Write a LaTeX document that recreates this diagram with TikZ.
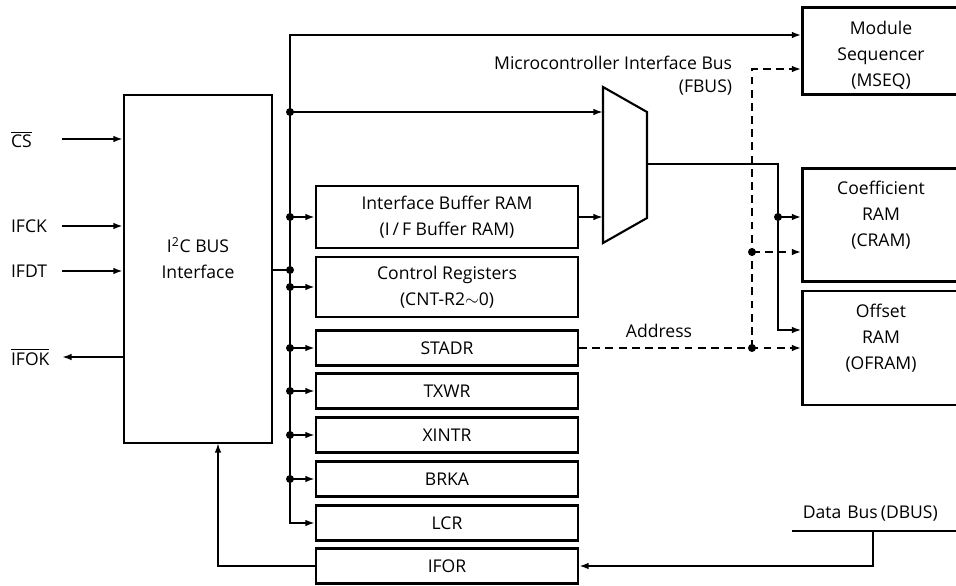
\documentclass[tikz,border=0pt]{standalone}
\usepackage{fontspec}
\setmainfont{Open Sans}
\usetikzlibrary{arrows.meta}

\tikzset{
  box/.style={draw, line width=1.25pt, inner sep=0pt, align=center},
  regbox/.style={box, minimum width=5.24cm, minimum height=0.70cm},
  rambox/.style={box, minimum width=3.14cm},
  arr/.style={-{Latex[length=5.5pt,width=3.8pt]}},
  dsh/.style={dash pattern=on 4.5pt off 3pt},
  lbl/.style={inner sep=0pt, anchor=west},
}

\begin{document}
\begin{tikzpicture}[x=0.02cm, y=-0.02cm, line width=1.2pt,
    font=\fontsize{10}{14.8}\selectfont]
            \path[fill=white] (0,0) rectangle (956,585);
            \useasboundingbox (0,0) rectangle (956,585);

            % I2C block and its pins
            \node[box, minimum width=2.96cm, minimum height=6.96cm] (i2c) at (198,269) {};
            \node[align=center] (i2ctxt) at (198,258) {I\textsuperscript{2}C BUS\\Interface};

            \node[lbl] (cs) at (10,139) {$\overline{\hbox{CS}}$};
            \node[lbl] (ifck) at (10,226) {IFCK};
            \node[lbl] (ifdt) at (10,271) {IFDT};
            \node[lbl] (ifok) at (10,357) {$\overline{\hbox{IFOK}}$};

            \coordinate (pin) at (62,0);
            \draw[arr] (pin |- cs) -- (i2c.west |- cs);
            \draw[arr] (pin |- ifck) -- (i2c.west |- ifck);
            \draw[arr] (pin |- ifdt) -- (i2c.west |- ifdt);
            \draw[arr] (i2c.west |- ifok) -- (pin |- ifok);

            % register column
            \node[regbox, minimum height=1.24cm] (ibram) at (447,217) {Interface Buffer RAM\\(I\,/\,F Buffer RAM)};
            \node[regbox, minimum height=1.20cm] (cntr) at (447,287) {Control Registers\\(CNT-R2$\sim$0)};
            \node[regbox] (stadr) at (447,348) {STADR};
            \node[regbox] (txwr) at (447,391) {TXWR};
            \node[regbox] (xintr) at (447,435) {XINTR};
            \node[regbox] (brka) at (447,479) {BRKA};
            \node[regbox] (lcr) at (447,523) {LCR};
            \node[regbox] (ifor) at (447,566) {IFOR};

            % RAM blocks on the right
            \node[rambox, minimum height=1.74cm] (mseq) at (881,51) {};
            \node[align=center] (mseqtxt) at (881,55) {Module\\Sequencer\\(MSEQ)};
            \node[rambox, minimum height=2.26cm, text depth=0.45cm] (cram) at (881,225) {Coefficient\\RAM\\(CRAM)};
            \node[rambox, minimum height=2.28cm, text depth=0.45cm] (ofram) at (881,348) {Offset\\RAM\\(OFRAM)};

            % multiplexer
            \coordinate (m1) at (603,87);
            \coordinate (m2) at (647,112);
            \coordinate (m3) at (647,218);
            \coordinate (m4) at (603,243);
            \draw (m1) -- (m2) -- (m3) -- (m4) -- cycle;
            \coordinate (mout) at (647,164);

            % microcontroller interface bus
            \coordinate (bus) at (290,0);
            \coordinate (top) at (290,35);
            \coordinate (muxin) at (290,112);
            \coordinate (i2cout) at (290,270);
            \draw (i2c.east |- i2cout) -- (i2cout);
            \draw[{Latex[length=5.5pt,width=3.8pt]}-{Latex[length=5.5pt,width=3.8pt]}]
                (lcr.west) -- (bus |- lcr.west) -- (top) -- (mseq.west |- top);
            \draw[arr] (muxin) -- (m1 |- muxin);
            \draw[arr] (ibram.east) -- (m1 |- ibram.east);
            \foreach \r in {ibram,cntr,stadr,txwr,xintr,brka}
              {\draw[arr] (bus |- \r.west) -- (\r.west);
               \fill (bus |- \r.west) circle (4);}
            \fill (muxin) circle (4);
            \fill (i2cout) circle (4);

            \node[anchor=east] (fbus) at (739,63) {Microcontroller Interface Bus};
            \node[anchor=east] (fbusb) at (739,88) {(FBUS)};

            % mux output to the RAMs
            \coordinate (split) at (778,0);
            \draw[line width=1pt, arr] (mout) -- (split |- mout) -- (split |- 0,330) -- (ofram.west |- 0,330);
            \draw[arr] (split |- 0,217) -- (cram.west |- 0,217);
            \fill (split |- 0,217) circle (4);

            % address lines
            \coordinate (addr) at (752,0);
            \draw[dsh, arr] (stadr.east) -- (ofram.west);
            \draw[dsh, arr] (addr |- stadr.east) -- (addr |- 0,69) -- (mseq.west |- 0,69);
            \draw[dsh, arr] (addr |- 0,252) -- (cram.west |- 0,252);
            \fill (addr |- 0,252) circle (4);
            \fill (addr |- stadr.east) circle (4);
            \node (address) at (659,331) {Address};

            % data bus back to the I2C block
            \coordinate (dbusl) at (792,531);
            \coordinate (dbusr) at (960,531);
            \coordinate (tap) at (873,531);
            \draw (dbusl) -- (dbusr);
            \node[anchor=west] (dbus) at (796,514) {Data\,\,Bus\,(DBUS)};
            \draw[arr] (tap) -- (tap |- ifor.east) -- (ifor.east);
            \draw[arr] (ifor.west) -- (218,566) -- (218,443);

        \end{tikzpicture}
\end{document}
